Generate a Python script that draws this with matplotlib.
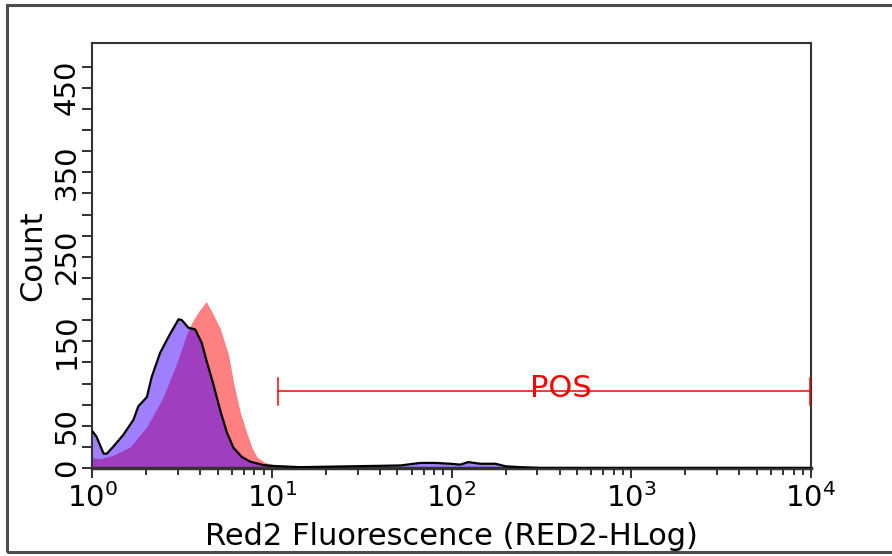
import matplotlib
matplotlib.use("Agg")
import matplotlib.pyplot as plt
from matplotlib.patches import Rectangle
from matplotlib.ticker import FixedLocator, LogLocator, NullFormatter

# Red2 fluorescence channel values and counts
red_x = [1.0, 1.11, 1.31, 1.63, 2.02, 2.49, 2.96, 3.37, 3.59, 3.91, 4.32, 4.64,
         5.17, 5.75, 6.12, 6.68, 7.28, 7.76, 8.28, 9.00, 9.81, 12.2, 20, 50,
         100, 200, 400, 10000]
red_counts = [12, 11, 15, 25, 49, 84, 124, 159, 172, 185, 197, 185,
              165, 134, 102, 66, 41, 24, 13, 7.5, 4.7, 2.7, 1.5, 1,
              1, 0.5, 0, 0]

pur_x = [1.0, 1.01, 1.06, 1.16, 1.21, 1.31, 1.49, 1.70, 1.81, 2.02, 2.15, 2.39,
         2.66, 3.03, 3.16, 3.44, 3.75, 4.08, 4.35, 4.72, 5.17, 5.63, 6.12, 6.82,
         7.59, 8.97, 10.2, 14.4, 27.4, 52, 67, 81.5, 98.7, 112, 124, 145, 176,
         200, 242, 313, 10000]
pur_counts = [43, 43, 37, 17, 17, 25, 39, 57, 73, 84, 108, 136,
              155, 176, 175, 166, 164, 148, 126, 100, 68, 42, 24, 13,
              7.5, 3.5, 2.4, 1, 2, 3, 6, 6, 5, 4, 7, 5, 5,
              2, 1, 0, 0]

y_ticks = list(range(0, 500, 25))
y_labels = ["0", "50", "150", "250", "350", "450"]

gate_x = [10.9, 9880]
gate_y = 91
gate_name = "POS"

fig = plt.figure(figsize=(8.92, 5.56), dpi=100)
ax = fig.add_axes([92 / 892, 1 - 468 / 556, 719 / 892, 425 / 556])

# outer frame around the whole plot
fig.patches.append(Rectangle((7 / 892, 1 - 552 / 556), 1.0, (552 - 4.5) / 556,
                             transform=fig.transFigure, fill=False,
                             edgecolor="#4d4d4d", linewidth=2.2))

ax.fill_between(red_x, red_counts, 0, color="#FF8080", linewidth=0, zorder=1)
ax.fill_between(pur_x, pur_counts, 0, color=(65 / 255, 0, 1), alpha=0.5,
                linewidth=0, zorder=2)
ax.plot(pur_x, pur_counts, color="black", linewidth=1.6, zorder=3)

# gate marker
ax.plot(gate_x, [gate_y, gate_y], color="red", linewidth=1.1, zorder=4)
for gx in gate_x:
    ax.plot([gx, gx], [gate_y - 16, gate_y + 16], color="red", linewidth=1.1, zorder=4)
ax.text(405, gate_y - 7, gate_name, color="red", fontsize=22, ha="center",
        va="baseline", zorder=5)

ax.set_xscale("log")
ax.set_xlim(1, 10000)
ax.set_ylim(0, 503)

ax.yaxis.set_major_locator(FixedLocator(y_ticks))
lbls = []
for t in y_ticks:
    lbls.append(str(t) if str(t) in y_labels else "")
ax.set_yticklabels(lbls)
ax.xaxis.set_minor_locator(LogLocator(base=10, subs=range(2, 10)))
ax.xaxis.set_minor_formatter(NullFormatter())

ax.tick_params(axis="y", labelsize=21, length=7, width=1.3, color="#222",
               labelrotation=90, pad=1)
for lab in ax.get_yticklabels():
    lab.set_va("center")
ax.tick_params(axis="x", which="major", labelsize=21, length=7, width=1.3,
               color="#222", pad=4)
ax.tick_params(axis="x", which="minor", length=5, width=1.3, color="#222")

for side in ["top", "right", "left"]:
    ax.spines[side].set_linewidth(1.5)
    ax.spines[side].set_color("#333")
ax.spines["bottom"].set_linewidth(2.5)
ax.spines["bottom"].set_color("#333")

ax.set_xlabel("Red2 Fluorescence (RED2-HLog)", fontsize=22, labelpad=6)
ax.set_ylabel("Count", fontsize=22, labelpad=4)

fig.savefig("out.png", dpi=100)
